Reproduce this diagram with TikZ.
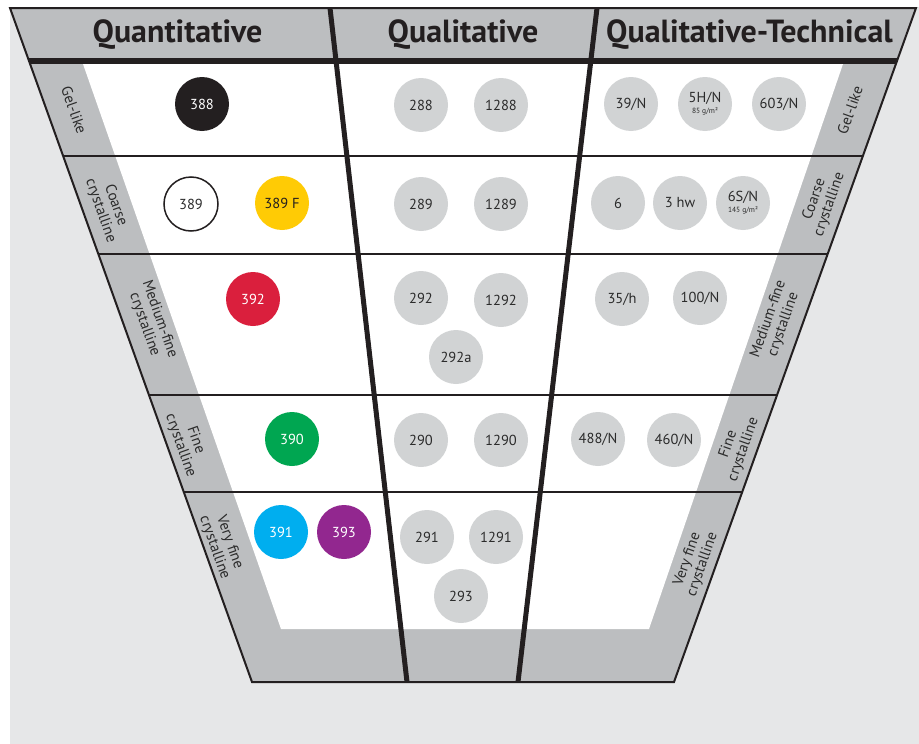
\documentclass[tikz,border=0pt]{standalone}
\usepackage{fontspec}
\setmainfont{PT Sans}
\usetikzlibrary{calc}
\definecolor{bgc}{HTML}{E6E7E8}
\definecolor{bandc}{HTML}{BCBEC0}
\definecolor{cgray}{HTML}{D1D3D4}
\definecolor{ink}{HTML}{231F20}
\definecolor{txt}{HTML}{2B2B2B}
\definecolor{cred}{HTML}{DA1F3D}
\definecolor{cyel}{HTML}{FFCB05}
\definecolor{cgreen}{HTML}{00A651}
\definecolor{ccyan}{HTML}{00AEEF}
\definecolor{cpurp}{HTML}{92278F}
\begin{document}
\begin{tikzpicture}[x=1pt,y=-1pt,
  hdr/.style={font=\fontsize{32}{34}\selectfont\bfseries, text=ink, inner sep=0pt},
  circ/.style={circle, minimum size=54pt, inner sep=0pt, font=\fontsize{14.5}{15}\selectfont, text=txt, align=center},
  gc/.style={circ, fill=cgray},
  lbl/.style={font=\fontsize{15}{16}\selectfont, text=txt, align=center, inner sep=0pt},
  lleft/.style={lbl, rotate=-70.6},
  lright/.style={lbl, rotate=70.6},
  rowline/.style={draw=ink, line width=1.6pt},
  divline/.style={draw=ink, line width=5pt}
]
\useasboundingbox (0,0) rectangle (919,744);
\fill[white] (0,0) rectangle (919,744);
\fill[bgc] (10,7) rectangle (919,744);
% outer funnel
\coordinate (TL) at (10,8);
\coordinate (TR) at (916,8);
\coordinate (BR) at (674,682);
\coordinate (BL) at (252,682);
\fill[bandc] (TL) -- (TR) -- (BR) -- (BL) -- cycle;
% inner white area
\coordinate (IL) at (83,64);
\coordinate (IR) at (843,64);
\coordinate (IBR) at (649,629);
\coordinate (IBL) at (281,629);
\fill[white] (IL) -- (IR) -- (IBR) -- (IBL) -- cycle;
% thick header line
\draw[ink, line width=6pt] ($(TL)!0.0786!(BL)$) -- ($(TR)!0.0786!(BR)$);
% row lines
\foreach \t in {0.2196,0.3650,0.5742,0.7181}{
  \draw[rowline] ($(TL)!\t!(BL)$) -- ($(TR)!\t!(BR)$);
}
% column dividers
\coordinate (D1t) at (330,8);
\coordinate (D1b) at (407,682);
\coordinate (D2t) at (597,8);
\coordinate (D2b) at (518,682);
\draw[divline] (D1t) -- (D1b);
\draw[divline] (D2t) -- (D2b);
% outline
\draw[ink, line width=2pt, line join=miter] (TL) -- (TR) -- (BR) -- (BL) -- cycle;

% headers
\node[hdr] (h1) at (177.5,35) {Quantitative};
\node[hdr] (h2) at (463,35) {Qualitative};
\node[hdr] (h3) at (749.5,35) {Qualitative-Technical};

% left labels
\node[lleft] (l1) at (74,110) {Gel-like};
\node[lleft] (l2) at (108,208) {Coarse\\crystalline};
\node[lleft] (l3) at (152,322) {Medium-fine\\crystalline};
\node[lleft] (l4) at (188,443) {Fine\\crystalline};
\node[lleft] (l5) at (222,545) {Very fine\\crystalline};
% right labels
\node[lright] (r1) at (850,110) {Gel-like};
\node[lright] (r2) at (822,202) {Coarse\\crystalline};
\node[lright] (r3) at (776,322) {Medium-fine\\crystalline};
\node[lright] (r4) at (736,447) {Fine\\crystalline};
\node[lright] (r5) at (695,562) {Very fine\\crystalline};

% row 1
\node[circ, fill=ink, text=white] (c388) at (202,104) {388};
\node[gc] (c288) at (421,105) {288};
\node[gc] (c1288) at (501,105) {1288};
\node[gc] (c39N) at (631,104) {39/N};
\node[gc] (c5HN) at (705,104) {5H/N\\[-4pt]{\fontsize{7.5}{8}\selectfont 85 g/m²}};
\node[gc] (c603N) at (779,104) {603/N};
% row 2
\node[circ, fill=white, draw=ink, line width=1.5pt] (c389) at (191,204) {389};
\node[circ, fill=cyel, text=ink] (c389F) at (282,203) {389 F};
\node[gc] (c289) at (421,204) {289};
\node[gc] (c1289) at (501,204) {1289};
\node[gc] (c6) at (618,203) {6};
\node[gc] (c3hw) at (680,203) {3 hw};
\node[gc] (c6SN) at (743,203) {6S/N\\[-4pt]{\fontsize{7.5}{8}\selectfont 145 g/m²}};
% row 3
\node[circ, fill=cred, text=white] (c392) at (253,299) {392};
\node[gc] (c292) at (421,298) {292};
\node[gc] (c1292) at (501,300) {1292};
\node[gc] (c292a) at (456,357) {292a};
\node[gc] (c35h) at (622,299) {35/h};
\node[gc] (c100N) at (700,298) {100/N};
% row 4
\node[circ, fill=cgreen, text=white] (c390) at (292,439) {390};
\node[gc] (c290) at (421,440) {290};
\node[gc] (c1290) at (501,440) {1290};
\node[gc] (c488N) at (598,439) {488/N};
\node[gc] (c460N) at (674,440) {460/N};
% row 5
\node[circ, fill=ccyan, text=white] (c391) at (281,532) {391};
\node[circ, fill=cpurp, text=white] (c393) at (344,532) {393};
\node[gc] (c291) at (427,537) {291};
\node[gc] (c1291) at (496,537) {1291};
\node[gc] (c293) at (461,596) {293};
\end{tikzpicture}
\end{document}
